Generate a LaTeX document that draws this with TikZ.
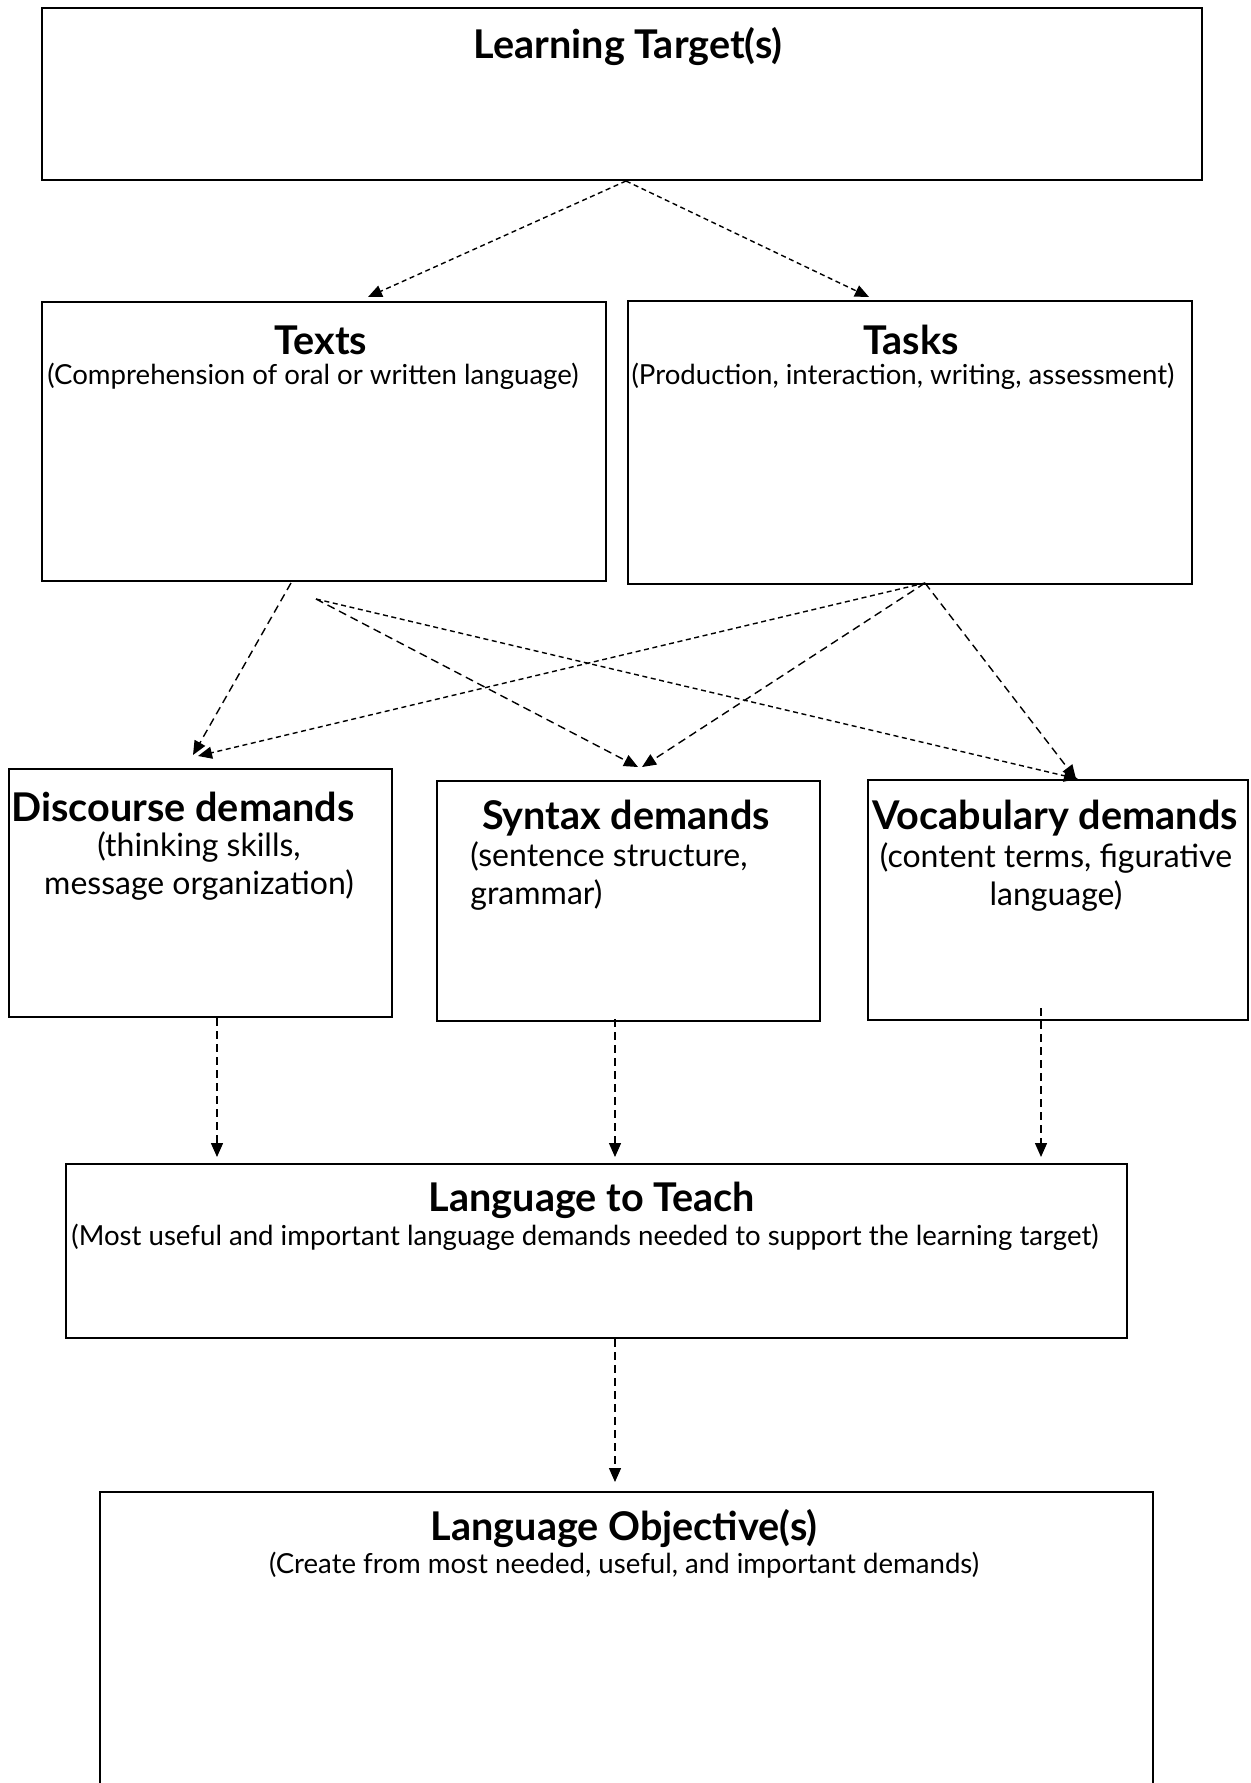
\documentclass[tikz,border=0pt]{standalone}
\usepackage{fontspec}
\setmainfont{Lato}
\usetikzlibrary{arrows.meta,calc}
\begin{document}
\begin{tikzpicture}[x=0.5pt,y=-0.5pt,
  box/.style={draw,line width=1pt,rectangle,inner sep=0pt},
  ttl/.style={font=\bfseries\fontsize{19.8}{22}\selectfont,inner sep=0pt},
  sub/.style={font=\fontsize{13.8}{19}\selectfont,inner sep=0pt},
  demsub/.style={font=\fontsize{16}{19}\selectfont,inner sep=0pt},
  arrowtip/.style={-{Triangle[length=7pt,width=6pt]}},
  shortflow/.style={arrowtip,line width=0.7pt,dash pattern=on 2.5pt off 1.8pt},
  longflow/.style={arrowtip,line width=0.7pt,dash pattern=on 4pt off 2.5pt}]
\useasboundingbox (0,0) rectangle (1250,1783);

% boxes
\node[box,minimum width=580pt,minimum height=86pt] (lt) at (622,94) {};
\node[box,minimum width=282.25pt,minimum height=139.5pt] (texts) at (324,441.5) {};
\node[box,minimum width=282pt,minimum height=141.5pt] (tasks) at (910,442.5) {};
\node[box,minimum width=191.5pt,minimum height=124pt] (disc) at (200.5,893) {};
\node[box,minimum width=191.5pt,minimum height=120pt] (syn) at (628.5,901) {};
\node[box,minimum width=190pt,minimum height=120pt] (voc) at (1058,900) {};
\node[box,minimum width=530.5pt,minimum height=87pt] (ltt) at (596.5,1251) {};
\node[box,minimum width=526.5pt,minimum height=154pt] (lo) at (626.5,1646) {};

% texts
\node[ttl] (ltT) at (628,47) {Learning Target(s)};
\node[ttl] (texT) at (321,340) {Texts};
\node[sub] (texS) at (313,376) {(Comprehension of oral or written language)};
\node[ttl] (tasT) at (911,340) {Tasks};
\node[sub] (tasS) at (903,376) {(Production, interaction, writing, assessment)};
\node[ttl] (discT) at (183,807) {Discourse demands};
\node[demsub,align=center] (discS) at (199,866) {(thinking skills,\\message organization)};
\node[ttl] (synT) at (626,818) {Syntax demands};
\node[demsub,align=left,anchor=west] (synS) at (470,876) {(sentence structure,\\grammar)};
\node[ttl] (vocT) at (1055,818) {Vocabulary demands};
\node[demsub,align=center] (vocS) at (1056,877) {(content terms, figurative\\language)};
\node[ttl] (lttT) at (592,1200) {Language to Teach};
\node[sub] (lttS) at (585,1237) {(Most useful and important language demands needed to support the learning target)};
\node[ttl] (loT) at (624,1529) {Language Objective(s)};
\node[sub] (loS) at (624,1565) {(Create from most needed, useful, and important demands)};

% connector end points
\coordinate (ltOut) at ($(lt.south)+(4,0)$);
\coordinate (texOutA) at ($(texts.south)+(-33,1)$);
\coordinate (texOutB) at ($(texts.south)+(-8,17)$);
\coordinate (tasOut) at ($(tasks.south)+(15,-2)$);
\coordinate (discOut) at ($(disc.south)+(16.5,0)$);
\coordinate (synOut) at ($(syn.south)+(-13.5,-3)$);
\coordinate (vocOut) at ($(voc.south)+(-17,-13)$);
\coordinate (lttOut) at ($(ltt.south)+(18.5,0)$);

% connectors
\draw[shortflow] (ltOut) -- ($(texts.north)+(44,-4)$);
\draw[shortflow] (ltOut) -- ($(tasks.north)+(-41,-3)$);
\draw[longflow] (texOutA) -- ($(disc.north)+(-7.5,-13)$);
\draw[longflow] (texOutB) -- ($(syn.north)+(9.5,-13)$);
\draw[shortflow] (texOutB) -- ($(voc.north)+(20,0)$);
\draw[shortflow] (tasOut) -- ($(disc.north)+(-2.5,-12)$);
\draw[longflow] (tasOut) -- ($(syn.north)+(13.5,-13)$);
\draw[longflow] (tasOut) -- ($(voc.north)+(18,0)$);
\draw[longflow] (discOut) -- ($(ltt.north)+(-379.5,-6)$);
\draw[longflow] (synOut) -- ($(ltt.north)+(18.5,-6)$);
\draw[longflow] (vocOut) -- ($(ltt.north)+(444.5,-6)$);
\draw[longflow] (lttOut) -- ($(lo.north)+(-11.5,-9)$);
\end{tikzpicture}
\end{document}
